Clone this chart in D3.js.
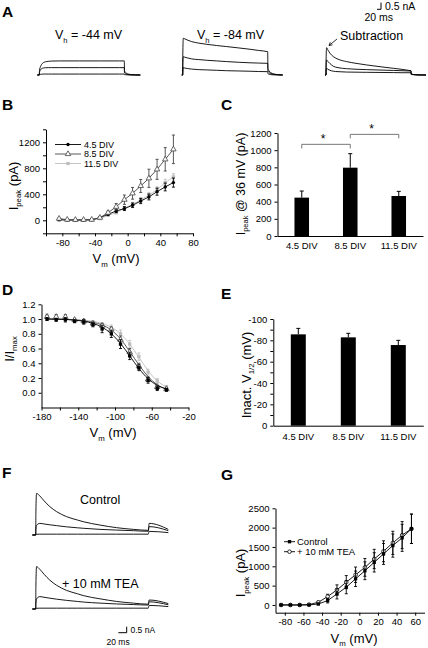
<!DOCTYPE html>
<html><head><meta charset="utf-8">
<script src="https://cdn.jsdelivr.net/npm/d3@7"></script>
<style>body{margin:0;background:#fff}</style>
</head><body><svg id="c" width="428" height="648" style="background:#fff"></svg>
<script>
// ---------------- DATA ----------------
// Panel A traces (time in ms, current in nA)
const aTimeH44 = [-10, 0, 1, 6, 12, 20, 30, 45, 60, 100, 200, 300, 400, 425, 426, 432, 440, 455, 480, 505];
const aH44Top = [0, 0, 0.35, 0.62, 0.8, 0.92, 0.98, 1.02, 1.04, 1.05, 1.05, 1.05, 1.05, 1.05, 0.3, 0.18, 0.1, 0.04, 0.01, 0];
const aH44Mid = [0, 0, 0.2, 0.38, 0.48, 0.52, 0.54, 0.55, 0.55, 0.55, 0.55, 0.55, 0.55, 0.55, 0.15, 0.09, 0.05, 0.02, 0.01, 0];
const aH44Bot = [0, 0, 0.03, 0.05, 0.06, 0.07, 0.07, 0.07, 0.07, 0.07, 0.07, 0.07, 0.07, 0.07, 0.03, 0.02, 0.01, 0, 0, 0];

const aTimeH84 = [-5, 0, 0.5, 3, 10, 25, 45, 80, 120, 170, 220, 280, 337, 380, 425, 426, 432, 440, 455, 475, 500];
const aH84Top = [0, 0, 1.5, 2.74, 2.7, 2.6, 2.49, 2.38, 2.29, 2.2, 2.12, 2.02, 1.92, 1.83, 1.74, 0.5, 0.3, 0.18, 0.08, 0.03, 0];
const aH84Mid = [0, 0, 0.8, 1.37, 1.33, 1.27, 1.2, 1.15, 1.1, 1.05, 1.0, 0.95, 0.91, 0.89, 0.87, 0.3, 0.18, 0.1, 0.05, 0.02, 0];
const aH84Bot = [0, 0, 0.3, 0.55, 0.52, 0.48, 0.44, 0.4, 0.38, 0.35, 0.32, 0.3, 0.28, 0.26, 0.25, 0.1, 0.06, 0.03, 0.01, 0, 0];

const aTimeSub = [-5, 0, 0.5, 3, 10, 20, 37, 60, 103, 150, 203, 270, 337, 380, 420, 425, 426, 440, 460, 500];
const aSubTop = [0, 0, 1.2, 2.04, 1.85, 1.62, 1.37, 1.18, 1.0, 0.87, 0.75, 0.62, 0.5, 0.42, 0.33, 0.32, 0.08, 0.03, 0.01, 0];
const aSubMid = [0, 0, 0.6, 1.12, 1.0, 0.85, 0.65, 0.55, 0.47, 0.43, 0.4, 0.37, 0.34, 0.32, 0.3, 0.3, 0.07, 0.03, 0.01, 0];
const aSubBot = [0, 0, 0.3, 0.5, 0.42, 0.35, 0.28, 0.25, 0.22, 0.21, 0.2, 0.19, 0.18, 0.17, 0.17, 0.17, 0.04, 0.02, 0, 0];

// Panel B: I-V curves
const ivV = [-84, -74, -64, -54, -44, -34, -24, -14, -4, 6, 16, 26, 36, 46, 56];
const ivDiv45 = [10, 5, 5, 5, 8, 41, 92, 144, 180, 231, 297, 359, 441, 513, 580];
const ivDiv45Err = [5, 3, 3, 3, 4, 10, 15, 25, 30, 35, 40, 45, 55, 60, 70];
const ivDiv85 = [25, 10, 8, 8, 10, 40, 117, 209, 317, 415, 528, 646, 784, 938, 1092];
const ivDiv85Err = [8, 5, 5, 5, 5, 12, 25, 50, 72, 90, 100, 140, 154, 180, 220];
const ivDiv115 = [0, 0, 0, 0, 5, 26, 77, 118, 185, 246, 313, 390, 470, 580, 667];
const ivDiv115Err = [3, 3, 3, 3, 3, 8, 15, 20, 25, 30, 35, 40, 45, 50, 50];
const seriesNames = ["4.5 DIV", "8.5 DIV", "11.5 DIV"];

// Panel C: peak current at 36 mV
const divCats = ["4.5 DIV", "8.5 DIV", "11.5 DIV"];
const peak36 = [447, 796, 466];
const peak36Err = [77, 163, 54];
const sigPairs = [[0, 1, 1068, 1020], [1, 2, 1184, 1138]];

// Panel D: inactivation
const inaV = [-174, -164, -154, -144, -134, -124, -114, -104, -94, -84, -74, -64, -54, -44];
const ina45 = [1.0, 0.99, 0.99, 0.97, 0.96, 0.925, 0.865, 0.8, 0.66, 0.5, 0.34, 0.17, 0.06, 0.04];
const ina45Err = [0.02, 0.02, 0.03, 0.02, 0.03, 0.03, 0.05, 0.05, 0.06, 0.05, 0.04, 0.04, 0.03, 0.02];
const ina85 = [1.03, 1.03, 1.03, 0.99, 0.97, 0.94, 0.91, 0.86, 0.72, 0.55, 0.36, 0.18, 0.08, 0.05];
const ina85Err = [0.02, 0.03, 0.03, 0.02, 0.02, 0.03, 0.03, 0.03, 0.05, 0.05, 0.04, 0.03, 0.02, 0.02];
const ina115 = [1.04, 1.02, 1.02, 0.99, 0.98, 0.95, 0.92, 0.88, 0.8, 0.66, 0.49, 0.28, 0.16, 0.08];
const ina115Err = [0.03, 0.03, 0.02, 0.02, 0.02, 0.02, 0.03, 0.04, 0.05, 0.05, 0.05, 0.04, 0.03, 0.02];
const fit45 = [1.0, 0.998, 0.995, 0.985, 0.97, 0.94, 0.89, 0.8, 0.67, 0.5, 0.33, 0.19, 0.1, 0.05];
const fit85 = [1.0, 1.0, 0.995, 0.99, 0.975, 0.955, 0.92, 0.85, 0.73, 0.56, 0.38, 0.22, 0.11, 0.05];
const fit115 = [1.0, 1.0, 0.998, 0.993, 0.985, 0.97, 0.94, 0.89, 0.8, 0.66, 0.48, 0.3, 0.16, 0.08];

// Panel E: inactivation V1/2
const vHalf = [-85.6, -82.8, -75.6];
const vHalfErr = [5.6, 3.8, 4.4];

// Panel F traces
const fTime = [-8, 0, 0.5, 2, 10, 20, 34, 50, 74, 100, 114, 154, 194, 234, 270, 271, 272, 318];
const fCtrlTop = [0, 0, 2.0, 3.47, 3.25, 2.85, 2.36, 1.95, 1.53, 1.25, 1.11, 0.83, 0.61, 0.47, 0.39, 0.7, 0.97, 0.47];
const fCtrlMid = [0, 0, 0.5, 0.8, 0.97, 0.92, 0.85, 0.78, 0.68, 0.6, 0.56, 0.47, 0.41, 0.36, 0.31, 0.5, 0.7, 0.36];
const fCtrlBot = [0, 0, 0.04, 0.06, 0.07, 0.07, 0.07, 0.07, 0.07, 0.07, 0.07, 0.07, 0.07, 0.07, 0.07, 0.2, 0.3, 0.2];
const fTeaTop = [0, 0, 2.0, 3.53, 3.3, 2.9, 2.4, 1.98, 1.55, 1.27, 1.12, 0.85, 0.63, 0.49, 0.4, 0.6, 0.75, 0.45];
const fTeaMid = [0, 0, 0.5, 0.85, 1.03, 0.98, 0.9, 0.82, 0.72, 0.63, 0.58, 0.49, 0.42, 0.37, 0.33, 0.45, 0.6, 0.35];
const fTeaBot = [0, 0, 0.04, 0.06, 0.07, 0.07, 0.07, 0.07, 0.07, 0.07, 0.07, 0.07, 0.07, 0.07, 0.07, 0.2, 0.3, 0.2];

// Panel G: TEA I-V
const gV = [-84, -74, -64, -54, -44, -34, -24, -14, -4, 6, 16, 26, 36, 46, 56];
const gControl = [0, 0, 0, 0, 26, 113, 286, 460, 677, 885, 1102, 1319, 1536, 1736, 1970];
const gControlErr = [5, 5, 5, 5, 20, 60, 130, 170, 200, 230, 250, 270, 300, 350, 380];
const gTea = [0, 0, 0, 10, 70, 217, 390, 590, 781, 972, 1189, 1389, 1606, 1806, 1970];
const gTeaErr = [5, 5, 5, 5, 25, 60, 130, 170, 200, 230, 250, 270, 300, 350, 380];
const gNames = ["Control", "+ 10 mM TEA"];

// ---------------- DRAWING ----------------
const FONT = '"Liberation Sans", Arial, Helvetica, sans-serif';
const svg = d3.select("#c").attr("font-family", FONT);

function styleAxis(g, fs) {
  g.attr("font-family", FONT).attr("font-size", fs || 9.5);
  g.selectAll(".domain").attr("stroke", "#000");
  g.selectAll(".tick line").attr("stroke", "#000");
  g.selectAll(".tick text").attr("fill", "#000");
}
function rich(x, y, parts, fs, opts) {
  opts = opts || {};
  const t = svg.append("text").attr("font-size", fs).attr("fill", "#000")
    .attr("text-anchor", opts.anchor || "start");
  if (opts.rotate) t.attr("transform", `translate(${x},${y}) rotate(-90)`);
  else t.attr("x", x).attr("y", y);
  let shifted = false;
  parts.forEach(p => {
    const s = t.append("tspan").text(p.t);
    if (p.sub) { s.attr("font-size", fs * 0.6).attr("dy", fs * 0.28); shifted = true; }
    else if (shifted) { s.attr("dy", -fs * 0.28); shifted = false; }
  });
  return t;
}
function letter(l, x, y) {
  svg.append("text").attr("x", x).attr("y", y).attr("font-size", 15.5)
    .attr("font-weight", "bold").attr("fill", "#000").text(l);
}
const fmt = d => String(d);

// ---- Traces helper
function drawTraces(times, arrs, xs, ys) {
  const line = d3.line().x((d, i) => xs(times[i])).y(d => ys(d)).curve(d3.curveMonotoneX);
  arrs.forEach(a => svg.append("path").attr("d", line(a)).attr("fill", "none")
    .attr("stroke", "#000").attr("stroke-width", 0.9));
}

// ---------------- Panel A ----------------
letter("A", 2, 17);
const kA = 0.2;     // px per ms
const nA_A = 13.4;  // px per nA
const yA = d3.scaleLinear().domain([0, 1]).range([75, 75 - nA_A]);
[[39.3, aTimeH44, [aH44Top, aH44Mid, aH44Bot]],
 [182.7, aTimeH84, [aH84Top, aH84Mid, aH84Bot]],
 [326, aTimeSub, [aSubTop, aSubMid, aSubBot]]].forEach(([x0, tt, arrs]) => {
  const xs = d3.scaleLinear().domain([0, 100]).range([x0, x0 + 100 * kA]);
  drawTraces(tt, arrs, xs, yA);
});
rich(55, 39, [{t: "V"}, {t: "h", sub: true}, {t: " = -44 mV"}], 12.5);
rich(197, 39, [{t: "V"}, {t: "h", sub: true}, {t: " = -84 mV"}], 12.5);
svg.append("text").attr("x", 340).attr("y", 40).attr("font-size", 12.5).text("Subtraction");
// arrow
svg.append("line").attr("x1", 337).attr("y1", 39).attr("x2", 329).attr("y2", 45.5)
  .attr("stroke", "#000").attr("stroke-width", 0.8);
svg.append("path").attr("d", "M332.5,44.8 L329,45.5 L330.3,42.2").attr("fill", "none")
  .attr("stroke", "#000").attr("stroke-width", 0.8);
// scale bar A
{
  const sx = d3.scaleLinear().domain([-20, 0]).range([381 - 20 * kA, 381]);
  const sy = d3.scaleLinear().domain([0, 0.5]).range([9.3, 9.3 - 0.5 * nA_A]);
  svg.append("path").attr("d", `M${sx(-20)},${sy(0)} L${sx(0)},${sy(0)} L${sx(0)},${sy(0.5)}`)
    .attr("fill", "none").attr("stroke", "#000").attr("stroke-width", 1);
  svg.append("text").attr("x", 385).attr("y", 10).attr("font-size", 10.5).text("0.5 nA");
  svg.append("text").attr("x", 364.5).attr("y", 20.5).attr("font-size", 10.5).text("20 ms");
}

// ---------------- Panel B ----------------
letter("B", 2, 110);
const xB = d3.scaleLinear().domain([-100, 80]).range([46, 193]);
const yB = d3.scaleLinear().domain([-200, 1400]).range([233.3, 129.3]);
styleAxis(svg.append("g").attr("transform", "translate(0,233.3)")
  .call(d3.axisBottom(xB).tickValues(d3.range(-100, 81, 20)).tickSize(3).tickSizeOuter(0)
    .tickFormat(d => d % 40 === 0 ? fmt(d) : "")));
styleAxis(svg.append("g").attr("transform", "translate(46,0)")
  .call(d3.axisLeft(yB).tickValues(d3.range(-200, 1401, 200)).tickSize(3).tickSizeOuter(0)
    .tickFormat(d => (d >= 0 && d % 400 === 0) ? fmt(d) : "")));

const colors = ["#000", "#444", "#bdbdbd"];
function marker(g, kind, x, y, color) {
  if (kind === 0) g.append("circle").attr("cx", x).attr("cy", y).attr("r", 1.7).attr("fill", color);
  else if (kind === 1) g.append("path").attr("d", d3.symbol(d3.symbolTriangle, 13)())
    .attr("transform", `translate(${x},${y})`).attr("fill", "#fff").attr("stroke", color).attr("stroke-width", 0.8);
  else if (kind === 2 || kind === 3) g.append("path").attr("d", d3.symbol(d3.symbolSquare, 11)())
    .attr("transform", `translate(${x},${y})`).attr("fill", color);
  else if (kind === 4) g.append("circle").attr("cx", x).attr("cy", y).attr("r", 1.8)
    .attr("fill", "#fff").attr("stroke", color).attr("stroke-width", 0.8);
}
function errBars(g, xs, ys, xv, yv, ev, color) {
  yv.forEach((v, i) => {
    const x = xs(xv[i]), y1 = ys(v - ev[i]), y2 = ys(v + ev[i]);
    g.append("line").attr("x1", x).attr("x2", x).attr("y1", y1).attr("y2", y2).attr("stroke", color).attr("stroke-width", 0.9);
    g.append("line").attr("x1", x - 1.5).attr("x2", x + 1.5).attr("y1", y1).attr("y2", y1).attr("stroke", color).attr("stroke-width", 0.9);
    g.append("line").attr("x1", x - 1.5).attr("x2", x + 1.5).attr("y1", y2).attr("y2", y2).attr("stroke", color).attr("stroke-width", 0.9);
  });
}
function series(xs, ys, xv, yv, ev, color, kind) {
  const g = svg.append("g");
  g.append("path").attr("d", d3.line().x((d, i) => xs(xv[i])).y(d => ys(d))(yv))
    .attr("fill", "none").attr("stroke", color).attr("stroke-width", 0.9);
  errBars(g, xs, ys, xv, yv, ev, color);
  yv.forEach((v, i) => marker(g, kind, xs(xv[i]), ys(v), color));
}
series(xB, yB, ivV, ivDiv115, ivDiv115Err, colors[2], 2);
series(xB, yB, ivV, ivDiv45, ivDiv45Err, colors[0], 0);
series(xB, yB, ivV, ivDiv85, ivDiv85Err, colors[1], 1);
// legend B
[0, 1, 2].forEach(i => {
  const y = 144.5 + i * 9.5;
  const g = svg.append("g");
  g.append("line").attr("x1", 55).attr("x2", 81).attr("y1", y).attr("y2", y).attr("stroke", colors[i]).attr("stroke-width", 0.9);
  marker(g, i, 68, y, colors[i]);
  svg.append("text").attr("x", 84).attr("y", y + 3.2).attr("font-size", 9).text(seriesNames[i]);
});
rich(116, 263, [{t: "V"}, {t: "m", sub: true}, {t: " (mV)"}], 13, {anchor: "middle"});
rich(17.5, 186, [{t: "I"}, {t: "peak", sub: true}, {t: " (pA)"}], 13, {anchor: "middle", rotate: true});

// ---------------- Panel C ----------------
letter("C", 221, 110);
const xC = d3.scaleBand().domain(divCats).range([277.5, 423]).paddingInner(0.7).paddingOuter(0.35);
const yC = d3.scaleLinear().domain([0, 1200]).range([236, 133]);
styleAxis(svg.append("g").attr("transform", "translate(0,236)")
  .call(d3.axisBottom(xC).tickSize(0).tickPadding(6).tickSizeOuter(0)));
styleAxis(svg.append("g").attr("transform", "translate(277.5,0)")
  .call(d3.axisLeft(yC).tickValues(d3.range(0, 1201, 200)).tickSize(3).tickSizeOuter(0).tickFormat(fmt)));
function bars(xs, ys, vals, errs, zero) {
  vals.forEach((v, i) => {
    const c = divCats[i], x = xs(c), w = xs.bandwidth(), cx = x + w / 2;
    const yt = ys(v), y0 = ys(zero), ye = ys(v + errs[i] * Math.sign(v || 1));
    svg.append("line").attr("x1", cx).attr("x2", cx).attr("y1", yt).attr("y2", ye).attr("stroke", "#000").attr("stroke-width", 1);
    svg.append("line").attr("x1", cx - 2).attr("x2", cx + 2).attr("y1", ye).attr("y2", ye).attr("stroke", "#000").attr("stroke-width", 1);
    svg.append("rect").attr("x", x).attr("width", w).attr("y", Math.min(yt, y0)).attr("height", Math.abs(y0 - yt)).attr("fill", "#000");
  });
}
bars(xC, yC, peak36, peak36Err, 0);
sigPairs.forEach(([a, b, top, end]) => {
  const xa = xC(divCats[a]) + xC.bandwidth() / 2, xb = xC(divCats[b]) + xC.bandwidth() / 2;
  svg.append("path").attr("d", `M${xa},${yC(end)} L${xa},${yC(top)} L${xb},${yC(top)} L${xb},${yC(end)}`)
    .attr("fill", "none").attr("stroke", "#777").attr("stroke-width", 1);
  svg.append("text").attr("x", (xa + xb) / 2 - 3).attr("y", yC(top) - 1.5).attr("text-anchor", "middle")
    .attr("font-size", 12).text("*");
});
rich(244.5, 184, [{t: "I"}, {t: "peak", sub: true}, {t: " @ 36 mV (pA)"}], 12.5, {anchor: "middle", rotate: true});

// ---------------- Panel D ----------------
letter("D", 2, 295);
const xD = d3.scaleLinear().domain([-180, -20]).range([41.5, 188.5]);
const yD = d3.scaleLinear().domain([-0.2, 1.2]).range([407.5, 304.3]);
styleAxis(svg.append("g").attr("transform", "translate(0,407.5)")
  .call(d3.axisBottom(xD).tickValues(d3.range(-180, -19, 20)).tickSize(3).tickSizeOuter(0)
    .tickFormat(d => ((d + 180) % 40 === 0) ? fmt(d) : "")));
styleAxis(svg.append("g").attr("transform", "translate(41.5,0)")
  .call(d3.axisLeft(yD).tickValues([0, 0.2, 0.4, 0.6, 0.8, 1.0, 1.2]).tickSize(3).tickSizeOuter(0)
    .tickFormat(d3.format(".1f"))));
function fitLine(vals, color) {
  svg.append("path").attr("d", d3.line().x((d, i) => xD(inaV[i])).y(d => yD(d)).curve(d3.curveMonotoneX)(vals))
    .attr("fill", "none").attr("stroke", color).attr("stroke-width", 0.9);
}
function ptsOnly(xs, ys, xv, yv, ev, color, kind) {
  const g = svg.append("g");
  errBars(g, xs, ys, xv, yv, ev, color);
  yv.forEach((v, i) => marker(g, kind, xs(xv[i]), ys(v), color));
}
fitLine(fit115, colors[2]);
ptsOnly(xD, yD, inaV, ina115, ina115Err, colors[2], 2);
fitLine(fit85, colors[1]);
ptsOnly(xD, yD, inaV, ina85, ina85Err, colors[1], 1);
fitLine(fit45, colors[0]);
ptsOnly(xD, yD, inaV, ina45, ina45Err, colors[0], 3);
rich(113, 437, [{t: "V"}, {t: "m", sub: true}, {t: " (mV)"}], 13, {anchor: "middle"});
rich(13.5, 349, [{t: "I/I"}, {t: "max", sub: true}], 13, {anchor: "middle", rotate: true});

// ---------------- Panel E ----------------
letter("E", 221, 299);
const xE = d3.scaleBand().domain(divCats).range([273.3, 423.3]).paddingInner(0.7).paddingOuter(0.35);
const yE = d3.scaleLinear().domain([0, -100]).range([425.7, 319]);
styleAxis(svg.append("g").attr("transform", "translate(0,425.7)")
  .call(d3.axisBottom(xE).tickSize(0).tickPadding(8).tickSizeOuter(0)));
styleAxis(svg.append("g").attr("transform", "translate(273.3,0)")
  .call(d3.axisLeft(yE).tickValues(d3.range(0, -101, -10)).tickSize(3).tickSizeOuter(0)
    .tickFormat(d => d % 20 === 0 ? fmt(d) : "")));
bars(xE, yE, vHalf, vHalfErr, 0);
rich(250.5, 375, [{t: "Inact. V"}, {t: "1/2", sub: true}, {t: " (mV)"}], 13, {anchor: "middle", rotate: true});

// ---------------- Panel F ----------------
letter("F", 2, 478);
const kF = 0.417, nA_F = 12;
const xF = d3.scaleLinear().domain([0, 100]).range([35.7, 35.7 + 100 * kF]);
const yFc = d3.scaleLinear().domain([0, 1]).range([535, 535 - nA_F]);
const yFt = d3.scaleLinear().domain([0, 1]).range([609, 609 - nA_F]);
drawTraces(fTime, [fCtrlTop, fCtrlMid, fCtrlBot], xF, yFc);
drawTraces(fTime, [fTeaTop, fTeaMid, fTeaBot], xF, yFt);
svg.append("text").attr("x", 80).attr("y", 503.5).attr("font-size", 12.5).text("Control");
svg.append("text").attr("x", 62).attr("y", 587.5).attr("font-size", 12.5).text("+ 10 mM TEA");
{
  const sx = d3.scaleLinear().domain([-20, 0]).range([126.7 - 20 * kF, 126.7]);
  const sy = d3.scaleLinear().domain([0, 0.5]).range([632.7, 632.7 - 0.5 * nA_F]);
  svg.append("path").attr("d", `M${sx(-20)},${sy(0)} L${sx(0)},${sy(0)} L${sx(0)},${sy(0.5)}`)
    .attr("fill", "none").attr("stroke", "#000").attr("stroke-width", 1);
  svg.append("text").attr("x", 130.5).attr("y", 633).attr("font-size", 8.5).text("0.5 nA");
  svg.append("text").attr("x", 106.5).attr("y", 645).attr("font-size", 8.5).text("20 ms");
}

// ---------------- Panel G ----------------
letter("G", 221, 480);
const xG = d3.scaleLinear().domain([-90, 70]).range([275.5, 424.5]);
const yG = d3.scaleLinear().domain([-200, 2500]).range([612.7, 508.3]);
styleAxis(svg.append("g").attr("transform", "translate(0,612.7)")
  .call(d3.axisBottom(xG).tickValues(d3.range(-80, 61, 20)).tickSize(3).tickSizeOuter(0).tickFormat(fmt)));
styleAxis(svg.append("g").attr("transform", "translate(275.5,0)")
  .call(d3.axisLeft(yG).tickValues(d3.range(0, 2501, 500)).tickSize(3).tickSizeOuter(0).tickFormat(fmt)));
series(xG, yG, gV, gTea, gTeaErr, "#000", 4);
series(xG, yG, gV, gControl, gControlErr, "#000", 3);
[0, 1].forEach(i => {
  const y = 541.7 + i * 10;
  const g = svg.append("g");
  g.append("line").attr("x1", 284).attr("x2", 295).attr("y1", y).attr("y2", y).attr("stroke", "#000").attr("stroke-width", 0.9);
  marker(g, i === 0 ? 3 : 4, 289.5, y, "#000");
  svg.append("text").attr("x", 297).attr("y", y + 3.4).attr("font-size", 9.5).text(gNames[i]);
});
rich(354, 642.5, [{t: "V"}, {t: "m", sub: true}, {t: " (mV)"}], 13, {anchor: "middle"});
rich(245, 573, [{t: "I"}, {t: "peak", sub: true}, {t: " (pA)"}], 13, {anchor: "middle", rotate: true});
</script></body></html>
